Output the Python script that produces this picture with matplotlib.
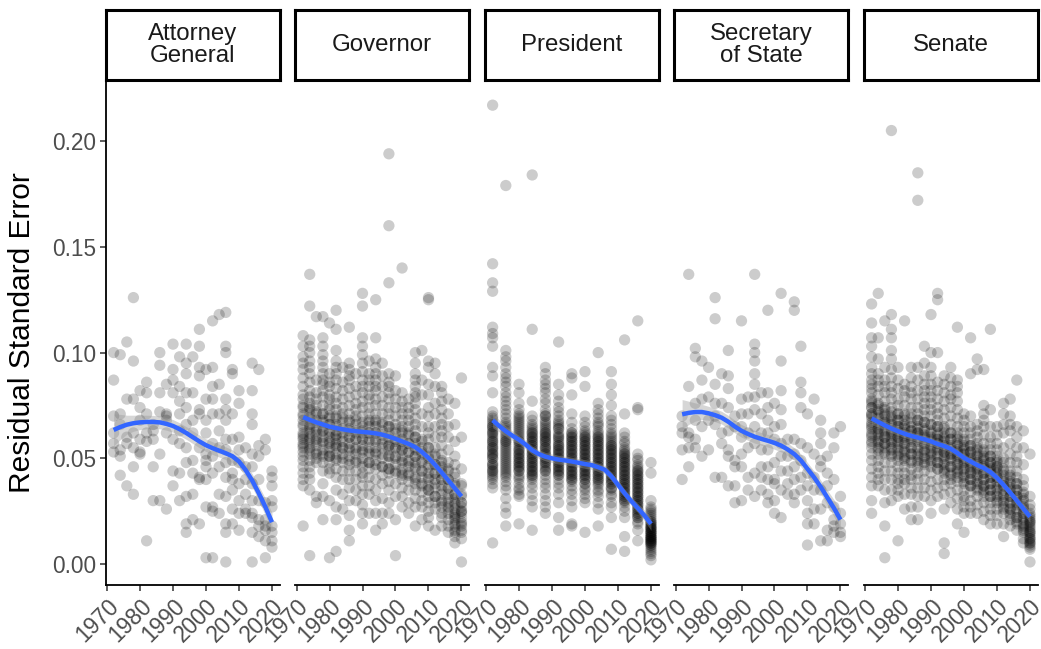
import numpy as np
import matplotlib
matplotlib.use("Agg")
import matplotlib.pyplot as plt

plt.rcParams['font.family'] = ['Liberation Sans', 'DejaVu Sans']

offices = ["Attorney\nGeneral", "Governor", "President", "Secretary\nof State", "Senate"]

# residual standard error (x 1000) per state race, grouped by election year
ag_years = list(range(1972, 2021, 2))
ag_rse = [
    [100, 87, 70, 62, 57, 53],
    [99, 71, 66, 54, 51, 42],
    [105, 78, 60, 57, 37],
    [126, 96, 78, 62, 55, 46, 33],
    [82, 74, 68, 59, 53, 52],
    [86, 81, 71, 62, 58, 11],
    [66, 63, 59, 46, 30],
    [100, 94, 81, 72, 52, 30],
    [85, 71, 70, 68, 62, 26],
    [104, 92, 87, 81, 59, 44, 37],
    [98, 84, 77, 71, 63, 57, 43, 30],
    [104, 95, 90, 81, 74, 66, 55, 48, 32, 19, 15],
    [98, 81, 68, 62, 49, 43, 33, 21],
    [111, 103, 93, 89, 73, 71, 55, 41, 40, 19],
    [92, 78, 68, 62, 52, 49, 46, 40, 27, 3],
    [115, 93, 84, 78, 71, 57, 51, 43, 27, 25, 3],
    [118, 85, 71, 63, 55, 46, 33, 24],
    [119, 103, 100, 78, 73, 68, 59, 54, 48, 41, 32, 19, 15, 1],
    [92, 90, 71, 59, 49, 43, 40, 35, 26, 19],
    [82, 76, 60, 54, 48, 38, 30, 24, 16],
    [55, 46, 40, 33, 26, 24],
    [95, 82, 71, 66, 52, 46, 38, 30, 24, 22, 15, 1],
    [92, 56, 51, 40, 30, 21, 18, 13],
    [59, 54, 29, 21, 18, 16, 11, 3],
    [44, 41, 37, 30, 27, 18, 15, 11, 8],
]

gov_years = list(range(1972, 2021, 2))
gov_rse = [
    [108, 103, 98, 95, 92, 88, 84, 80, 78, 74, 71, 68, 65, 62, 60, 59, 57, 55, 53,
     51, 49, 46, 43, 40, 37, 18, 75, 70, 66, 61, 56],
    [137, 122, 106, 103, 100, 96, 93, 90, 86, 82, 79, 76, 74, 71, 68, 66, 64, 62,
     59, 57, 55, 52, 49, 46, 43, 40, 35, 4, 73, 69, 65, 60, 54],
    [117, 87, 81, 78, 75, 71, 67, 63, 61, 59, 56, 52, 50, 48, 32, 29, 72, 68, 64,
     58, 53],
    [117, 107, 103, 99, 96, 93, 90, 87, 85, 82, 79, 75, 71, 68, 65, 63, 60, 57,
     54, 51, 48, 44, 38, 32, 21, 71, 67, 63, 58, 52],
    [114, 90, 86, 84, 80, 78, 75, 73, 69, 66, 63, 60, 58, 55, 53, 51, 48, 45, 43,
     30, 3, 70, 66, 62, 57, 51],
    [120, 111, 101, 96, 93, 90, 87, 83, 79, 76, 73, 70, 66, 63, 61, 59, 57, 55,
     52, 49, 45, 41, 35, 27, 21, 6, 69, 65, 61, 56, 50],
    [93, 86, 82, 78, 74, 71, 67, 62, 58, 55, 52, 48, 44, 40, 33, 26, 69, 64, 60,
     55, 50],
    [112, 95, 92, 89, 87, 83, 79, 75, 71, 67, 63, 60, 57, 54, 51, 47, 44, 40, 36,
     30, 23, 16, 11, 68, 64, 60, 55, 49],
    [90, 84, 80, 76, 73, 70, 66, 62, 59, 55, 52, 48, 44, 40, 35, 30, 68, 63, 59,
     54, 49],
    [128, 122, 107, 103, 99, 95, 91, 87, 84, 81, 77, 74, 70, 65, 62, 59, 56, 54,
     50, 46, 43, 41, 37, 33, 28, 24, 19, 67, 63, 59, 53, 48],
    [96, 90, 87, 84, 80, 78, 74, 71, 68, 65, 62, 59, 55, 52, 48, 45, 41, 37, 33,
     24, 67, 62, 58, 53, 48],
    [125, 107, 97, 93, 90, 87, 84, 82, 78, 75, 71, 68, 65, 62, 59, 55, 52, 49, 45,
     40, 35, 30, 24, 16, 67, 62, 58, 53, 47],
    [95, 89, 84, 79, 75, 71, 67, 63, 59, 55, 50, 46, 42, 38, 31, 24, 19, 66, 61,
     57, 52, 46],
    [194, 160, 133, 90, 86, 84, 81, 78, 74, 71, 68, 65, 62, 59, 56, 54, 51, 48,
     45, 43, 39, 35, 29, 24, 65, 60, 56, 51, 45],
    [89, 82, 78, 74, 70, 66, 62, 58, 55, 51, 47, 43, 38, 32, 21, 4, 64, 59, 55,
     50, 44],
    [140, 81, 77, 74, 71, 68, 65, 62, 59, 56, 54, 51, 48, 45, 42, 40, 36, 32, 27,
     63, 58, 54, 49, 43],
    [78, 74, 71, 68, 65, 61, 57, 53, 49, 46, 43, 39, 35, 29, 24, 62, 57, 53, 48, 42],
    [100, 95, 90, 87, 84, 81, 79, 76, 73, 69, 66, 63, 60, 57, 54, 51, 48, 45, 41,
     38, 35, 31, 27, 18, 60, 55, 51, 46, 40],
    [101, 87, 80, 71, 65, 59, 55, 52, 48, 44, 41, 37, 34, 30, 27, 21, 58, 53, 49,
     44, 38],
    [126, 125, 96, 93, 85, 80, 74, 70, 65, 62, 59, 55, 51, 47, 43, 40, 37, 35, 32,
     29, 25, 22, 18, 55, 50, 46, 41, 35],
    [95, 90, 84, 76, 71, 65, 60, 55, 51, 47, 43, 40, 36, 32, 29, 26, 16, 52, 47,
     43, 38, 32],
    [84, 81, 77, 73, 69, 66, 63, 60, 56, 52, 49, 46, 43, 40, 37, 33, 30, 27, 24,
     22, 18, 48, 44, 40, 35, 29],
    [78, 71, 65, 60, 54, 48, 44, 40, 36, 33, 29, 27, 24, 21, 18, 15, 45, 40, 36,
     31, 26],
    [76, 66, 58, 51, 47, 43, 38, 33, 31, 29, 26, 24, 22, 21, 19, 18, 16, 15, 13,
     10, 41, 37, 33, 28, 23],
    [88, 60, 45, 38, 32, 29, 27, 25, 24, 22, 19, 18, 16, 15, 12, 1, 37, 33, 29,
     25, 20],
]

pres_years = list(range(1972, 2021, 4))
pres_rse = [
    [217, 142, 133, 129, 112, 109, 107, 103, 93, 89, 81, 72, 70, 69, 67, 66, 64,
     63, 62, 61, 59, 58, 57, 56, 55, 54, 53, 52, 51, 50, 48, 47, 46, 45, 44, 43,
     41, 40, 38, 36, 10, 68, 65, 62, 60, 58, 55, 52, 50, 47, 44, 42, 65],
    [179, 101, 98, 96, 93, 90, 88, 86, 84, 81, 79, 77, 75, 73, 71, 69, 67, 65, 63,
     61, 59, 58, 57, 55, 53, 51, 50, 49, 47, 45, 43, 41, 39, 37, 35, 31, 27, 24,
     18, 66, 64, 62, 60, 58, 56, 54, 52, 48, 46, 44, 42],
    [85, 81, 76, 73, 71, 69, 68, 66, 65, 63, 62, 60, 59, 58, 57, 55, 54, 53, 52,
     51, 50, 49, 48, 47, 46, 45, 44, 42, 41, 40, 38, 36, 35, 33, 32, 19, 64, 61,
     58, 56, 54, 52, 50, 48, 46, 44, 67, 70],
    [184, 111, 77, 70, 68, 66, 64, 63, 62, 61, 60, 59, 58, 57, 56, 55, 54, 53, 52,
     51, 50, 49, 48, 47, 46, 45, 44, 43, 42, 41, 40, 38, 36, 33, 30, 27, 16, 60,
     58, 56, 54, 52, 50, 48, 46, 44, 42, 62, 65],
    [93, 90, 87, 85, 83, 81, 78, 76, 73, 71, 70, 68, 67, 65, 64, 63, 62, 61, 60,
     59, 58, 57, 56, 55, 54, 52, 51, 50, 49, 48, 47, 45, 44, 42, 40, 38, 36, 33,
     30, 27, 24, 62, 60, 58, 55, 53, 50, 48, 46, 44, 66, 70, 52],
    [105, 85, 80, 77, 74, 72, 70, 68, 67, 65, 64, 62, 61, 60, 59, 57, 56, 55, 54,
     53, 52, 51, 50, 49, 48, 47, 46, 45, 44, 43, 42, 40, 38, 36, 33, 29, 22, 16,
     60, 58, 56, 54, 52, 50, 48, 46, 44, 64, 66, 42],
    [90, 88, 80, 71, 67, 64, 62, 61, 60, 59, 58, 57, 56, 55, 54, 53, 52, 51, 50,
     49, 48, 47, 46, 45, 44, 43, 42, 41, 40, 39, 37, 35, 33, 30, 27, 19, 18, 58,
     56, 54, 52, 50, 48, 46, 44, 42, 60, 62, 40],
    [91, 84, 70, 67, 65, 63, 62, 61, 60, 59, 58, 57, 56, 55, 54, 53, 52, 51, 50,
     49, 48, 47, 46, 45, 44, 43, 42, 41, 40, 38, 36, 35, 33, 31, 29, 15, 58, 56,
     54, 52, 50, 48, 46, 44, 42, 60, 40, 38],
    [100, 76, 73, 71, 69, 67, 66, 65, 63, 62, 61, 60, 59, 58, 57, 56, 55, 54, 53,
     52, 51, 50, 49, 48, 47, 46, 45, 44, 43, 42, 41, 40, 39, 37, 35, 34, 32, 29,
     26, 18, 58, 56, 54, 52, 50, 48, 46, 44, 42, 40, 60, 38],
    [91, 85, 80, 75, 70, 68, 66, 64, 62, 61, 60, 59, 57, 56, 55, 54, 53, 52, 51,
     50, 49, 48, 47, 46, 45, 44, 43, 42, 41, 40, 39, 38, 36, 35, 33, 32, 29, 27,
     22, 7, 54, 52, 50, 48, 46, 44, 42, 40, 38, 36, 56, 58],
    [106, 71, 62, 60, 58, 57, 55, 54, 53, 52, 51, 50, 49, 48, 47, 46, 45, 44, 43,
     42, 41, 40, 39, 38, 37, 36, 35, 34, 33, 32, 31, 30, 29, 27, 25, 22, 13, 6,
     48, 46, 44, 42, 40, 38, 36, 34, 32, 30, 50, 52],
    [115, 74, 73, 52, 50, 49, 47, 46, 45, 44, 43, 42, 41, 40, 39, 38, 37, 36, 35,
     34, 33, 32, 31, 30, 29, 28, 27, 26, 25, 24, 23, 22, 20, 19, 16, 11, 40, 38,
     36, 34, 32, 30, 28, 26, 24, 42, 44, 22],
    [48, 43, 30, 27, 26, 25, 24, 23, 22, 21, 20, 19, 18, 17, 17, 16, 15, 15, 14,
     13, 13, 12, 12, 11, 11, 10, 10, 9, 8, 7, 6, 5, 4, 2, 20, 18, 16, 15, 14, 13,
     12, 11, 10, 9, 17, 19],
]

sos_years = list(range(1972, 2021, 2))
sos_rse = [
    [70, 65, 62, 54, 40],
    [137, 84, 62, 60, 55, 46],
    [102, 98, 76, 68, 59, 55],
    [96, 87, 78, 65, 51],
    [93, 79, 68, 54],
    [126, 116, 85, 76, 70, 66, 41],
    [90, 76, 62, 57, 41],
    [101, 89, 83, 74, 63, 54, 51, 37],
    [70, 65, 49, 46, 37, 29],
    [115, 78, 71, 65, 60, 52, 46, 30],
    [79, 71, 62, 55, 41, 35],
    [137, 104, 100, 96, 90, 85, 79, 73, 65, 57, 43, 32],
    [81, 71, 62, 54, 46, 41, 35],
    [120, 81, 74, 68, 62, 54, 46, 40, 33, 29],
    [76, 65, 59, 48, 40, 38, 30, 24],
    [128, 96, 82, 73, 66, 57, 51, 44, 35, 22],
    [59, 51, 44, 38, 33],
    [124, 120, 59, 52, 46, 40, 33, 29],
    [103, 86, 81, 74, 57, 49, 41, 35],
    [71, 55, 43, 37, 30, 24, 19, 9],
    [78, 52, 41, 35, 26, 19],
    [68, 62, 57, 49, 46, 35, 26, 11],
    [51, 43, 37, 29, 16, 11],
    [62, 55, 40, 27, 21, 18, 15],
    [65, 32, 24, 19, 15, 13],
]

sen_years = list(range(1972, 2021, 2))
sen_rse = [
    [123, 114, 107, 103, 98, 93, 90, 87, 85, 83, 81, 78, 76, 74, 71, 69, 66, 64,
     62, 60, 57, 55, 52, 49, 45, 41, 37, 30, 24, 77, 74, 71, 70, 67, 65, 61, 58],
    [128, 107, 97, 90, 87, 84, 80, 76, 73, 70, 67, 64, 62, 59, 57, 55, 52, 49, 46,
     43, 40, 37, 75, 72, 69, 66, 64, 61, 58, 54],
    [115, 93, 87, 84, 81, 77, 74, 71, 68, 65, 62, 60, 57, 55, 52, 48, 44, 40, 35,
     29, 18, 3, 73, 70, 67, 66, 63, 60, 57, 53],
    [205, 118, 111, 107, 101, 97, 92, 88, 84, 81, 78, 74, 70, 67, 64, 62, 59, 57,
     54, 51, 48, 44, 40, 35, 30, 72, 69, 66, 63, 61, 58, 55, 52],
    [93, 87, 83, 78, 75, 71, 68, 65, 63, 60, 57, 55, 52, 49, 46, 43, 40, 38, 35,
     32, 11, 71, 68, 65, 62, 60, 58, 54, 51],
    [115, 85, 82, 79, 75, 71, 68, 65, 62, 59, 57, 54, 51, 49, 46, 43, 40, 38, 33,
     26, 70, 66, 64, 61, 60, 56, 53, 50],
    [93, 88, 84, 81, 78, 74, 71, 67, 63, 60, 58, 55, 52, 48, 45, 42, 40, 36, 33,
     27, 21, 69, 65, 63, 61, 59, 55, 52, 49],
    [185, 172, 93, 87, 82, 78, 74, 71, 68, 65, 62, 59, 55, 52, 49, 46, 43, 40, 36,
     32, 27, 21, 68, 64, 62, 60, 58, 54, 51, 48],
    [103, 95, 89, 85, 82, 79, 76, 73, 70, 67, 63, 60, 57, 54, 51, 48, 44, 40, 36,
     32, 67, 64, 61, 59, 56, 53, 50, 47],
    [118, 100, 93, 89, 85, 82, 79, 76, 73, 70, 66, 63, 59, 56, 53, 51, 48, 43, 39,
     35, 30, 24, 66, 62, 60, 58, 55, 52, 49, 46],
    [128, 125, 100, 86, 82, 78, 74, 71, 68, 65, 62, 59, 57, 55, 52, 48, 45, 40, 36,
     32, 65, 61, 59, 57, 54, 51, 48, 45],
    [89, 85, 81, 77, 73, 69, 65, 62, 59, 56, 53, 51, 48, 45, 43, 40, 37, 33, 26,
     10, 5, 64, 60, 58, 55, 53, 50, 47, 44],
    [93, 88, 84, 80, 78, 74, 70, 66, 62, 59, 55, 52, 50, 46, 43, 40, 38, 34, 29,
     62, 59, 56, 54, 52, 49, 46, 42],
    [112, 87, 84, 81, 77, 73, 69, 65, 62, 59, 56, 53, 51, 48, 45, 43, 39, 35, 31,
     26, 19, 60, 57, 54, 52, 50, 47, 44, 41],
    [71, 68, 65, 62, 59, 56, 54, 52, 49, 47, 44, 41, 38, 35, 32, 30, 27, 24, 15,
     58, 55, 52, 50, 48, 45, 42, 39],
    [107, 90, 70, 65, 62, 59, 56, 53, 51, 48, 45, 43, 40, 37, 34, 30, 27, 24, 56,
     53, 50, 48, 46, 43, 40, 37],
    [97, 92, 66, 63, 60, 57, 54, 51, 48, 46, 44, 41, 38, 35, 32, 28, 24, 55, 52,
     49, 47, 45, 42, 39, 36],
    [92, 75, 71, 68, 65, 61, 57, 54, 51, 49, 46, 43, 40, 37, 35, 32, 29, 25, 21,
     53, 50, 47, 45, 43, 40, 37, 34],
    [111, 73, 65, 60, 57, 54, 51, 48, 46, 44, 41, 38, 35, 32, 29, 26, 23, 19, 51,
     48, 45, 43, 41, 38, 35, 32],
    [65, 61, 57, 54, 51, 48, 46, 44, 41, 38, 35, 32, 29, 26, 23, 19, 49, 46, 43,
     41, 39, 36, 33, 30],
    [76, 71, 66, 62, 55, 50, 48, 44, 40, 37, 33, 30, 27, 24, 19, 13, 45, 42, 39,
     37, 35, 32, 29, 26],
    [78, 70, 66, 63, 57, 52, 48, 44, 41, 38, 35, 32, 29, 26, 24, 21, 18, 42, 39,
     36, 34, 32, 29, 26, 23],
    [87, 65, 60, 55, 51, 48, 44, 41, 38, 35, 32, 29, 26, 22, 19, 16, 38, 35, 32,
     30, 28, 25, 22, 20],
    [63, 55, 47, 40, 37, 33, 30, 27, 24, 22, 19, 17, 15, 12, 10, 34, 31, 28, 26,
     24, 21, 18, 16],
    [52, 32, 28, 24, 22, 20, 19, 17, 16, 15, 14, 13, 12, 11, 10, 9, 8, 7, 1, 26,
     23, 21, 20, 18, 15, 12, 10],
]

# loess fit (x 1000) and half width of its 95% band, every two years
fit_years = list(range(1972, 2021, 2))
ag_fit = [63.4, 64.8, 65.9, 66.6, 67.0, 67.2, 67.2, 67.0, 66.3, 65.3, 63.8, 62.0,
          60.0, 58.0, 56.2, 54.8, 53.6, 52.4, 51.0, 48.5, 44.5, 39.5, 33.5, 27.0, 19.8]
gov_fit = [69.5, 68.2, 67.0, 66.0, 65.0, 64.3, 63.7, 63.2, 62.8, 62.5, 62.2, 61.8,
           61.2, 60.3, 59.2, 58.0, 56.8, 55.3, 53.0, 50.2, 46.9, 43.3, 39.6, 35.8, 32.0]
pres_fit = [68.0, 65.3, 62.8, 60.7, 58.8, 56.5, 53.8, 52.0, 50.8, 50.0, 49.4, 49.0,
            48.5, 47.9, 47.3, 46.8, 45.8, 44.6, 41.5, 37.5, 33.5, 29.8, 26.5, 23.0, 19.0]
sos_fit = [70.8, 71.5, 71.9, 71.9, 71.3, 70.4, 69.2, 67.3, 65.0, 63.0, 61.5, 60.2,
           59.2, 58.3, 57.3, 56.0, 54.2, 52.0, 49.0, 45.0, 41.0, 36.5, 31.5, 26.5, 21.0]
sen_fit = [68.9, 67.2, 65.6, 64.1, 62.8, 61.6, 60.6, 59.8, 59.0, 58.0, 56.8, 55.8,
           54.5, 52.5, 50.2, 48.5, 46.8, 45.4, 43.5, 40.8, 37.4, 33.8, 30.0, 26.2, 22.4]

ag_band = [7.5, 6.0, 4.5, 3.8, 3.4, 3.2, 3.1, 3.0, 3.0, 3.0, 3.0, 3.0, 3.0, 3.0,
           3.0, 3.0, 3.0, 3.0, 3.0, 3.0, 3.0, 3.2, 3.5, 4.0, 4.5]
gov_band = [3.5, 2.8, 2.4, 2.2, 2.1, 2.0, 2.0, 2.0, 2.0, 2.0, 2.0, 2.0, 2.0, 2.0,
            2.0, 2.0, 2.0, 2.0, 2.0, 2.0, 2.0, 2.0, 2.2, 2.6, 3.0]
pres_band = [3.5, 2.8, 2.4, 2.2, 2.0, 2.0, 2.0, 2.0, 2.0, 2.0, 2.0, 2.0, 2.0, 2.0,
             2.0, 2.0, 2.0, 2.0, 2.0, 2.0, 2.0, 2.0, 2.2, 2.6, 3.0]
sos_band = [7.0, 5.5, 4.3, 3.6, 3.3, 3.1, 3.0, 3.0, 3.0, 3.0, 3.0, 3.0, 3.0, 3.0,
            3.0, 3.0, 3.0, 3.0, 3.0, 3.0, 3.0, 3.2, 3.5, 4.0, 4.5]
sen_band = [3.0, 2.5, 2.2, 2.0, 1.8, 1.8, 1.8, 1.8, 1.8, 1.8, 1.8, 1.8, 1.8, 1.8,
            1.8, 1.8, 1.8, 1.8, 1.8, 1.8, 1.8, 1.8, 2.0, 2.3, 2.7]

panels = [
    (ag_years, ag_rse, ag_fit, ag_band),
    (gov_years, gov_rse, gov_fit, gov_band),
    (pres_years, pres_rse, pres_fit, pres_band),
    (sos_years, sos_rse, sos_fit, sos_band),
    (sen_years, sen_rse, sen_fit, sen_band),
]

W, H = 1041, 649
fig = plt.figure(figsize=(W / 100, H / 100), dpi=100)

for i, (name, (years, rse, fit, band)) in enumerate(zip(offices, panels)):
    left = (105.7 + 189.5 * i) / W
    ax = fig.add_axes([left, 64 / H, 174.2 / W, 505 / H])

    xs = np.concatenate([[y] * len(v) for y, v in zip(years, rse)])
    ys = np.concatenate(rse) / 1000
    ax.scatter(xs, ys, s=66, color='black', alpha=0.2, edgecolors='none', zorder=2)

    fit = np.array(fit) / 1000
    band = np.array(band) / 1000
    ax.fill_between(fit_years, fit - band, fit + band, color='#999999', alpha=0.4,
                    lw=0, zorder=3)
    ax.plot(fit_years, fit, color='#3366FF', lw=3.2, solid_capstyle='butt', zorder=4)

    ax.set_xlim(1969.6, 2022.4)
    ax.set_ylim(-0.0099, 0.2289)
    ax.set_xticks(range(1970, 2021, 10))
    ax.set_xticklabels([str(t) for t in range(1970, 2021, 10)], rotation=45,
                       ha='right', va='top', rotation_mode='anchor')
    ax.tick_params(axis='x', length=4, width=1.1, color='#333333', labelsize=16.3,
                   labelcolor='#4d4d4d', pad=3)
    for s in ['top', 'right']:
        ax.spines[s].set_visible(False)
    ax.spines['bottom'].set_linewidth(1.3)
    if i == 0:
        ax.set_yticks([0, 0.05, 0.10, 0.15, 0.20])
        ax.set_yticklabels(['0.00', '0.05', '0.10', '0.15', '0.20'])
        ax.tick_params(axis='y', length=4, width=1.1, color='#333333', labelsize=16.3,
                       labelcolor='#4d4d4d', pad=3)
        ax.spines['left'].set_linewidth(1.3)
    else:
        ax.spines['left'].set_visible(False)
        ax.set_yticks([])

    # facet strip
    sax = fig.add_axes([left, 569 / H, 174.2 / W, 70 / H])
    sax.set_xticks([])
    sax.set_yticks([])
    for s in sax.spines.values():
        s.set_linewidth(2.2)
        s.set_color('black')
    sax.text(0.5, 0.5, name, ha='center', va='center', fontsize=17.3,
             color='#1a1a1a', linespacing=1.05, transform=sax.transAxes)

fig.text(22 / W, 0.4877, 'Residual Standard Error', rotation=90, ha='center',
         va='center', fontsize=21.5)

fig.savefig('out.png', dpi=100)
